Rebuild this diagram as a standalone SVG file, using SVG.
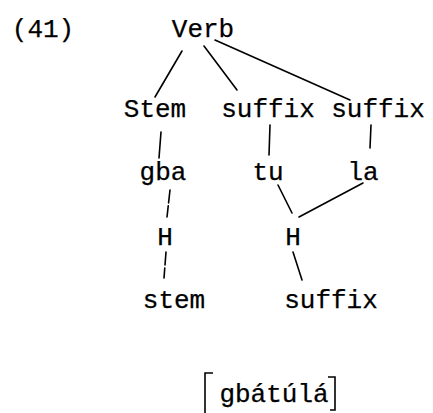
<svg xmlns="http://www.w3.org/2000/svg" width="433" height="413" viewBox="0 0 433 413">
<style>
text{font-family:"Liberation Mono","Courier New",monospace;font-size:26px;fill:#000;stroke:#000;stroke-width:0.25;text-anchor:middle}
.e line{stroke:#000;stroke-width:1.6;stroke-linecap:round}
.d{stroke-dasharray:13 3}
</style>
<rect width="433" height="413" fill="#fff"/>
<text x="43" y="37">(41)</text>
<g id="verb"><text x="203" y="37">Verb</text></g>
<g id="stem1"><text x="155" y="117">Stem</text></g>
<g id="suffix1"><text x="268" y="117">suffix</text></g>
<g id="suffix2"><text x="378" y="117">suffix</text></g>
<g id="gba"><text x="163" y="180">gba</text></g>
<g id="tu"><text x="268" y="180">tu</text></g>
<g id="la"><text x="363" y="180">la</text></g>
<g id="H1"><text x="165" y="245">H</text></g>
<g id="H2"><text x="293" y="245">H</text></g>
<g id="stem2"><text x="174" y="308">stem</text></g>
<g id="suffix3"><text x="331" y="308">suffix</text></g>
<g id="form">
<text x="274" y="402">gbátúlá</text>
<path d="M213,373 H205 V413 M328,377 H335 V410 H330" fill="none" stroke="#000" stroke-width="1.6"/>
</g>
<g class="e" id="connectors">
<line x1="182" y1="51" x2="155" y2="97"/>
<line x1="204" y1="46" x2="237" y2="90"/>
<line x1="215" y1="40" x2="350" y2="100"/>
<line x1="161" y1="132" x2="159" y2="158"/>
<line x1="270" y1="125" x2="269" y2="155"/>
<line x1="371" y1="125" x2="370" y2="148"/>
<line class="d" x1="170" y1="190" x2="167" y2="217"/>
<line class="d" x1="166" y1="252" x2="164" y2="278"/>
<line x1="278" y1="185" x2="292" y2="213"/>
<line x1="363" y1="183" x2="299" y2="217"/>
<line x1="293" y1="252" x2="302" y2="280"/>
</g>
</svg>
